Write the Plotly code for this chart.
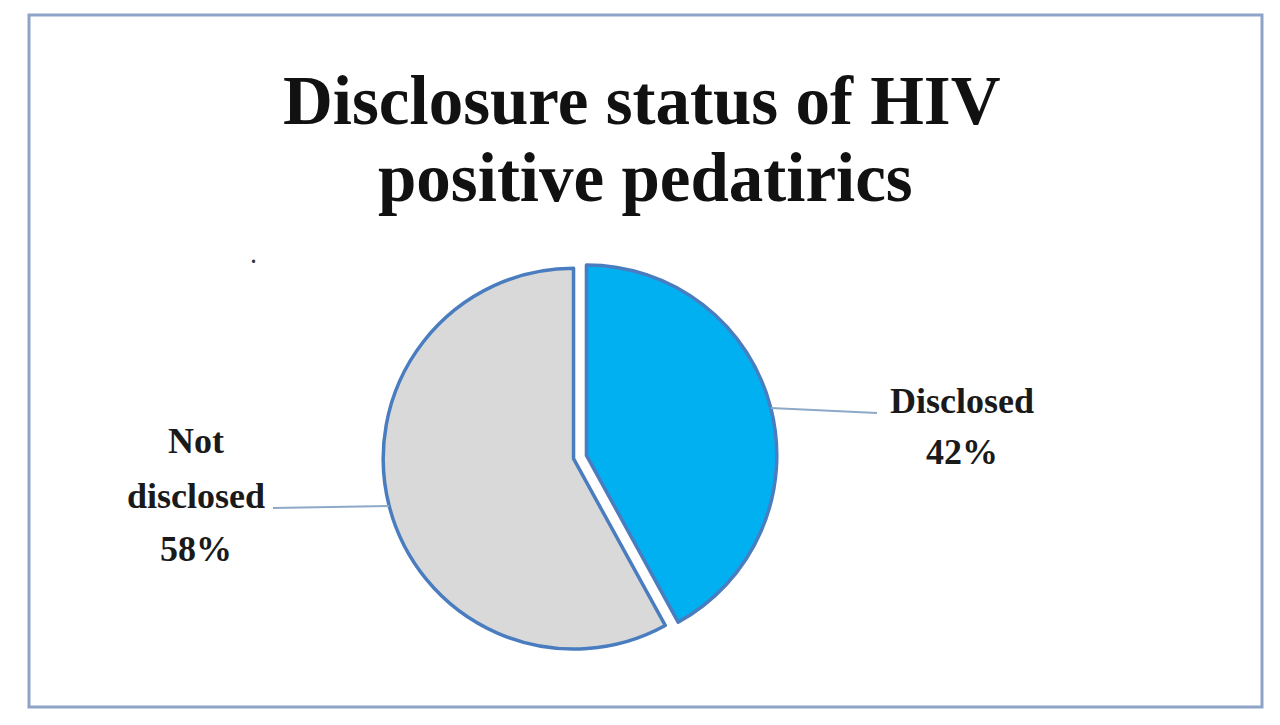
import math
import plotly.graph_objects as go

# ---- data ----
labels = ["Disclosed", "Not disclosed"]
values = [42, 58]
label_lines = [["Disclosed"], ["Not", "disclosed"]]
colors = ["#00B0F0", "#D9D9D9"]
pulls = [0.035, 0.035]
title_lines = ["Disclosure status of HIV", "positive pedatirics"]

W, H = 1280, 725
OFF = 8  # page body margin offset in the browser
FONT = "Liberation Serif"


def px(x):
    return (x - OFF) / W


def py(y):
    return 1 - (y - OFF) / H


# pie placement (reference pixels)
cx, cy = 580, 457
half = 197
dom_x = [px(cx - half), px(cx + half)]
dom_y = [py(cy + half), py(cy - half)]
r = half / (1 + max(pulls))

fig = go.Figure(go.Pie(
    labels=labels,
    values=values,
    sort=False,
    direction="clockwise",
    rotation=0,
    pull=pulls,
    textinfo="none",
    hoverinfo="label+percent",
    marker=dict(colors=colors, line=dict(color="#4A7DBF", width=3.5)),
    domain=dict(x=dom_x, y=dom_y),
    showlegend=False,
))

total = sum(values)
# label line centres (pixels) and leader line ends
label_x = [962, 196]
label_ys = [[401, 452], [441, 496, 549]]
line_end = [(877, 413), (273, 508)]

shapes = []
annotations = []
cum = 0
for i, v in enumerate(values):
    mid = (cum + v / 2) / total * 2 * math.pi
    cum += v
    ex = cx + (1 + pulls[i]) * r * math.sin(mid)
    ey = cy - (1 + pulls[i]) * r * math.cos(mid)
    lx, ly = line_end[i]
    shapes.append(dict(type="line", xref="paper", yref="paper",
                       x0=px(ex), y0=py(ey), x1=px(lx), y1=py(ly),
                       line=dict(color="#8EA9C8", width=2)))
    pct = round(v / total * 100)
    texts = label_lines[i] + [f"{pct}%"]
    for t, ty in zip(texts, label_ys[i]):
        annotations.append(dict(
            text=f"<b>{t}</b>",
            xref="paper", yref="paper", x=px(label_x[i]), y=py(ty),
            xanchor="center", yanchor="middle", showarrow=False,
            font=dict(family=FONT, size=36, color="#1a1a1a")))

# title lines
for txt, (tx, ty) in zip(title_lines, [(642, 101), (645, 178)]):
    annotations.append(dict(
        text=f"<b>{txt}</b>", xref="paper", yref="paper",
        x=px(tx), y=py(ty), xanchor="center", yanchor="middle",
        showarrow=False, font=dict(family=FONT, size=69, color="#111111")))

# stray dot
annotations.append(dict(text="<b>.</b>", xref="paper", yref="paper",
                        x=px(253), y=py(256), xanchor="center", yanchor="middle",
                        showarrow=False, font=dict(family=FONT, size=20, color="#333333")))

# frame
shapes.append(dict(type="rect", xref="paper", yref="paper",
                   x0=px(29), y0=py(707), x1=px(1262), y1=py(15),
                   line=dict(color="#8DA3C8", width=3), fillcolor="rgba(0,0,0,0)"))

fig.update_layout(
    width=W, height=H,
    margin=dict(l=0, r=0, t=0, b=0),
    paper_bgcolor="white", plot_bgcolor="white",
    shapes=shapes, annotations=annotations,
)

fig.write_html("out.html", config={"displayModeBar": False})
